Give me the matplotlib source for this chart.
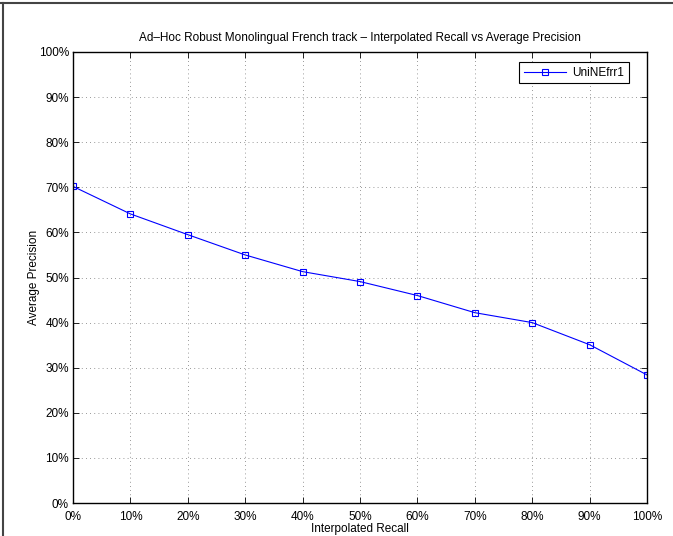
import matplotlib
matplotlib.use('Agg')
import matplotlib.pyplot as plt
from matplotlib.lines import Line2D
from matplotlib.ticker import FuncFormatter

plt.rcParams['font.family'] = ['Liberation Sans', 'DejaVu Sans']

recall = [0, 10, 20, 30, 40, 50, 60, 70, 80, 90, 100]
precision = [70.2, 64.1, 59.5, 55.0, 51.3, 49.1, 46.0, 42.2, 40.0, 35.1, 28.4]
series_name = 'UniNEfrr1'
ticks = [0, 10, 20, 30, 40, 50, 60, 70, 80, 90, 100]

fig = plt.figure(figsize=(6.73, 5.36), dpi=100)
ax = fig.add_axes([73/673, 33/536, 574/673, 451/536])

ax.plot(recall, precision, color='blue', linewidth=0.8, marker='s',
        markersize=5, markerfacecolor='none', markeredgecolor='blue',
        markeredgewidth=0.8, label=series_name)

ax.set_xlim(0, 100)
ax.set_ylim(0, 100)
ax.set_xticks(ticks)
ax.set_yticks(ticks)
pct = FuncFormatter(lambda v, p: '%d%%' % v)
ax.xaxis.set_major_formatter(pct)
ax.yaxis.set_major_formatter(pct)
ax.tick_params(direction='in', length=4, width=0.6, labelsize=8.5,
               top=True, right=True)
ax.tick_params(axis='x', pad=6)
ax.tick_params(axis='y', pad=3)
ax.grid(True, linestyle=(0, (1, 4)), color='#777777', linewidth=0.6)
for s in ax.spines.values():
    s.set_linewidth(1.0)

ax.set_title('Ad\u2013Hoc Robust Monolingual French track \u2013 Interpolated Recall vs Average Precision',
             fontsize=8.5, pad=8)
ax.set_xlabel('Interpolated Recall', fontsize=8.5, labelpad=0)
ax.set_ylabel('Average Precision', fontsize=8.5, labelpad=-1)

leg = ax.legend(loc='upper right', fontsize=8.5, fancybox=False, framealpha=1,
                edgecolor='black', handlelength=3.6, borderpad=0.4,
                handletextpad=0.5, borderaxespad=0,
                bbox_to_anchor=(629/673, 474/536), bbox_transform=fig.transFigure)
leg.get_frame().set_linewidth(0.8)

# frame of the original window (top and left edges)
fig.add_artist(Line2D([0, 1], [1 - 3/536, 1 - 3/536], color='#444444', linewidth=1.5))
fig.add_artist(Line2D([3/673, 3/673], [0, 1 - 3/536], color='#444444', linewidth=1.5))

fig.savefig('out.png', dpi=100)
